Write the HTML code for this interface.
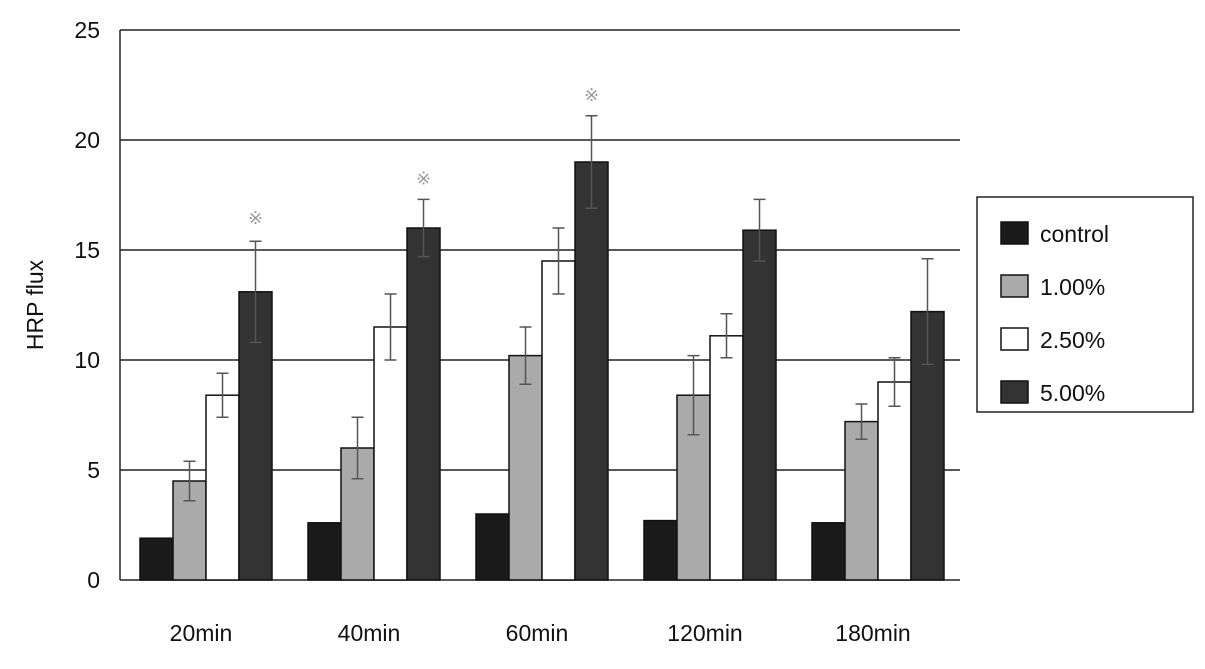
<!DOCTYPE html>
<html><head><meta charset="utf-8"><style>
body{margin:0;background:#fff;}
text{font-family:"Liberation Sans",sans-serif;fill:#111;}
</style></head><body>
<svg width="1205" height="664" id="chart"></svg>
<script>
const categories=["20min","40min","60min","120min","180min"];
const seriesNames=["control","1.00%","2.50%","5.00%"];
const controlVals=[1.9,2.6,3.0,2.7,2.6];
const pct1Vals=[4.5,6.0,10.2,8.4,7.2];
const pct25Vals=[8.4,11.5,14.5,11.1,9.0];
const pct5Vals=[13.1,16.0,19.0,15.9,12.2];
const controlErr=[0,0,0,0,0];
const pct1Err=[0.9,1.4,1.3,1.8,0.8];
const pct25Err=[1.0,1.5,1.5,1.0,1.1];
const pct5Err=[2.3,1.3,2.1,1.4,2.4];
const markY=[16.5,18.3,22.1,null,null];
const yTicks=[0,5,10,15,20,25];
const NS="http://www.w3.org/2000/svg";
const svg=document.getElementById('chart');
const X0=120,X1=960,Y0=580,Y1=30,YMAX=25;
const y=v=>Y0-(v/YMAX)*(Y0-Y1);
const gw=(X1-X0)/categories.length, bw=33;
const xBar=(i,s)=>X0+i*gw+20+s*bw;
function el(t,a){const e=document.createElementNS(NS,t);for(const k in a)e.setAttribute(k,a[k]);svg.appendChild(e);return e;}
const colors=["#1a1a1a","#aaaaaa","#ffffff","#333333"];
const vals=[controlVals,pct1Vals,pct25Vals,pct5Vals];
const errs=[controlErr,pct1Err,pct25Err,pct5Err];
yTicks.forEach(t=>{
  const g=el('line',{x1:X0,x2:X1,y1:y(t),y2:y(t),stroke:'#222','stroke-width':1.5});
  
  
  const l=el('text',{x:100,y:y(t)+8,'text-anchor':'end','font-size':23});
  l.textContent=t;
  
  
});
const ax=el('line',{x1:X0,x2:X0,y1:Y1,y2:Y0,stroke:'#222','stroke-width':1.5});


const yt=el('text',{x:0,y:0,'text-anchor':'middle','font-size':23,transform:'translate(43,305) rotate(-90)'});
yt.textContent='HRP  flux';


categories.forEach((c,i)=>{
  vals.forEach((sv,s)=>{
    const x=xBar(i,s);
    const r=el('rect',{x:x,y:y(sv[i]),width:bw,height:Y0-y(sv[i]),fill:colors[s],stroke:'#111','stroke-width':1.5});
    
    
    const e=errs[s][i];
    if(e>0){
      const cx=x+bw/2;
      const p=el('path',{d:`M${cx} ${y(sv[i]+e)}V${y(sv[i]-e)}M${cx-6} ${y(sv[i]+e)}H${cx+6}M${cx-6} ${y(sv[i]-e)}H${cx+6}`,stroke:'#555','stroke-width':1.5,fill:'none'});
      
      
    }
  });
  if(markY[i]!=null){
    const m=el('text',{x:xBar(i,3)+bw/2,y:y(markY[i])+7,'text-anchor':'middle','font-size':18,style:'fill:#999'});
    m.textContent='※';
    
    
  }
  const l=el('text',{x:X0+i*gw+gw/2-3,y:641,'text-anchor':'middle','font-size':23});
  l.textContent=c;
  
  
});
const lg=el('rect',{x:977,y:197,width:216,height:215,fill:'#fff',stroke:'#222','stroke-width':1.5});


seriesNames.forEach((n,s)=>{
  const yy=233+s*53;
  const sw=el('rect',{x:1001,y:yy-11,width:27,height:22,fill:colors[s],stroke:'#111','stroke-width':1.5});
  
  
  const t=el('text',{x:1040,y:yy+9,'font-size':23});
  t.textContent=n;
  
  
});
</script>
</body></html>
